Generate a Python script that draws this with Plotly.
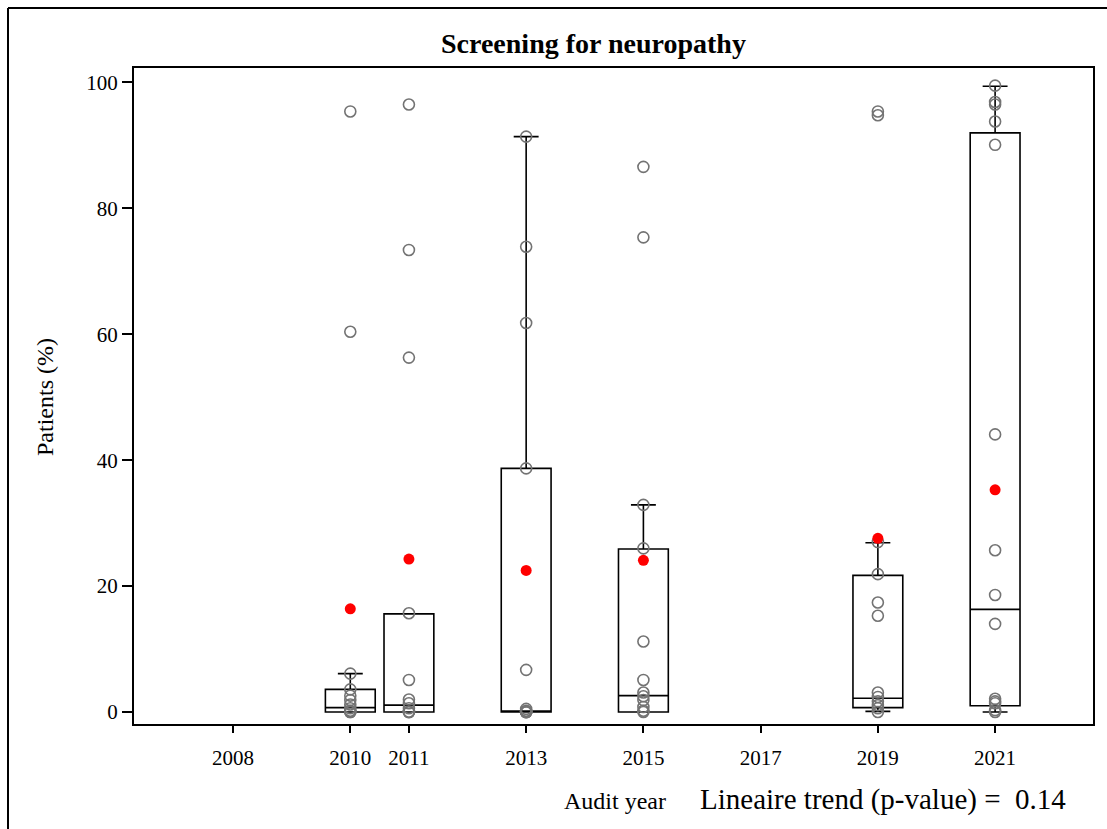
import plotly.graph_objects as go

# Audit years shown on the axis
tick_years = [2008, 2010, 2011, 2013, 2015, 2017, 2019, 2021]

# Years that have data
years = [2010, 2011, 2013, 2015, 2019, 2021]

# Per-practice screening percentages per audit year
pts_2010 = [95.4, 60.4, 6.1, 3.6, 2.6, 1.9, 1.2, 0.6, 0.2, 0, 0]
pts_2011 = [96.5, 73.4, 56.3, 15.7, 5.1, 2.0, 1.4, 0.6, 0, 0, 0]
pts_2013 = [91.4, 73.9, 61.8, 38.7, 6.7, 0.5, 0.2, 0, 0, 0, 0, 0]
pts_2015 = [86.6, 75.4, 32.9, 26.0, 11.2, 5.1, 3.1, 2.5, 1.9, 0.8, 0.2, 0]
pts_2019 = [95.4, 94.8, 27.0, 21.9, 17.4, 15.3, 3.1, 2.4, 1.7, 1.1, 0.6, 0.0]
pts_2021 = [99.5, 96.9, 96.5, 93.8, 90.1, 44.1, 25.7, 18.6, 14.0, 2.1, 1.7, 1.4, 0.3, 0]

points_by_year = [pts_2010, pts_2011, pts_2013, pts_2015, pts_2019, pts_2021]

# Box statistics
q1 = [0.0, 0.0, 0.0, 0.0, 0.7, 1.0]
median = [0.7, 1.1, 0.1, 2.6, 2.2, 16.3]
q3 = [3.6, 15.6, 38.7, 25.9, 21.7, 92.0]
lower_fence = [0.0, 0.0, 0.0, 0.0, 0.1, 0.0]
upper_fence = [6.1, 15.6, 91.4, 32.9, 26.9, 99.4]

# Mean per year
means = [16.4, 24.3, 22.5, 24.1, 27.6, 35.3]

p_value = "0.14"

# Plot area in pixels (figure is 1107 x 829)
W, H = 1107, 829
L, R, T, B = 134, 1093, 68, 724


def px_x(p):
    return (p - L) / (R - L)


def px_y(p):
    return (B - p) / (B - T)


SERIF = "Liberation Serif, Times New Roman, serif"

fig = go.Figure()

fig.add_trace(go.Box(
    x=years, q1=q1, median=median, q3=q3,
    lowerfence=lower_fence, upperfence=upper_fence,
    width=0.85, whiskerwidth=0.5, boxpoints=False,
    line=dict(color="black", width=1.6),
    fillcolor="rgba(255,255,255,0)",
    showlegend=False, hoverinfo="skip",
))

xs, ys = [], []
for yr, vals in zip(years, points_by_year):
    xs += [yr] * len(vals)
    ys += vals

fig.add_trace(go.Scatter(
    x=xs, y=ys, mode="markers",
    marker=dict(symbol="circle-open", size=11, color="#737373",
                line=dict(width=1.6, color="#737373")),
    showlegend=False,
))

fig.add_trace(go.Scatter(
    x=years, y=means, mode="markers",
    marker=dict(symbol="circle", size=11, color="#ff0000"),
    showlegend=False,
))

fig.update_xaxes(
    range=[2006.31, 2022.67],
    tickvals=tick_years, ticktext=[str(t) for t in tick_years],
    showline=True, mirror=True, linecolor="black", linewidth=2,
    ticks="outside", ticklen=7, tickwidth=1.5, tickcolor="black",
    showgrid=False, zeroline=False,
    tickfont=dict(family=SERIF, size=21, color="black"),
    ticklabelstandoff=7,
)
fig.update_yaxes(
    range=[-1.9, 102.3],
    tickvals=[0, 20, 40, 60, 80, 100],
    showline=True, mirror=True, linecolor="black", linewidth=2,
    ticks="outside", ticklen=10, tickwidth=1.5, tickcolor="black",
    showgrid=False, zeroline=False,
    tickfont=dict(family=SERIF, size=21, color="black"),
)

annotations = [
    dict(text="<b>Screening for neuropathy</b>", x=px_x(593), y=px_y(43),
         font=dict(family=SERIF, size=28, color="black")),
    dict(text="Patients (%)", x=px_x(45), y=px_y(397), textangle=-90,
         font=dict(family=SERIF, size=24, color="black")),
    dict(text="Audit year", x=px_x(615), y=px_y(801),
         font=dict(family=SERIF, size=24, color="black")),
    dict(text="Lineaire trend (p-value) =  " + p_value, x=px_x(883), y=px_y(799),
         font=dict(family=SERIF, size=29, color="black")),
]
for a in annotations:
    a.update(xref="paper", yref="paper", showarrow=False,
             xanchor="center", yanchor="middle")

# Outer frame: left and top edges
shapes = [
    dict(type="line", xref="paper", yref="paper",
         x0=px_x(8), x1=px_x(8), y0=px_y(8), y1=px_y(H + 5),
         line=dict(color="black", width=2)),
    dict(type="line", xref="paper", yref="paper",
         x0=px_x(8), x1=px_x(W + 5), y0=px_y(8), y1=px_y(8),
         line=dict(color="black", width=2)),
]

fig.update_layout(
    width=W, height=H,
    margin=dict(l=L, r=W - R, t=T, b=H - B),
    paper_bgcolor="white", plot_bgcolor="white",
    annotations=annotations, shapes=shapes,
    showlegend=False,
)

fig.write_html("out.html")
